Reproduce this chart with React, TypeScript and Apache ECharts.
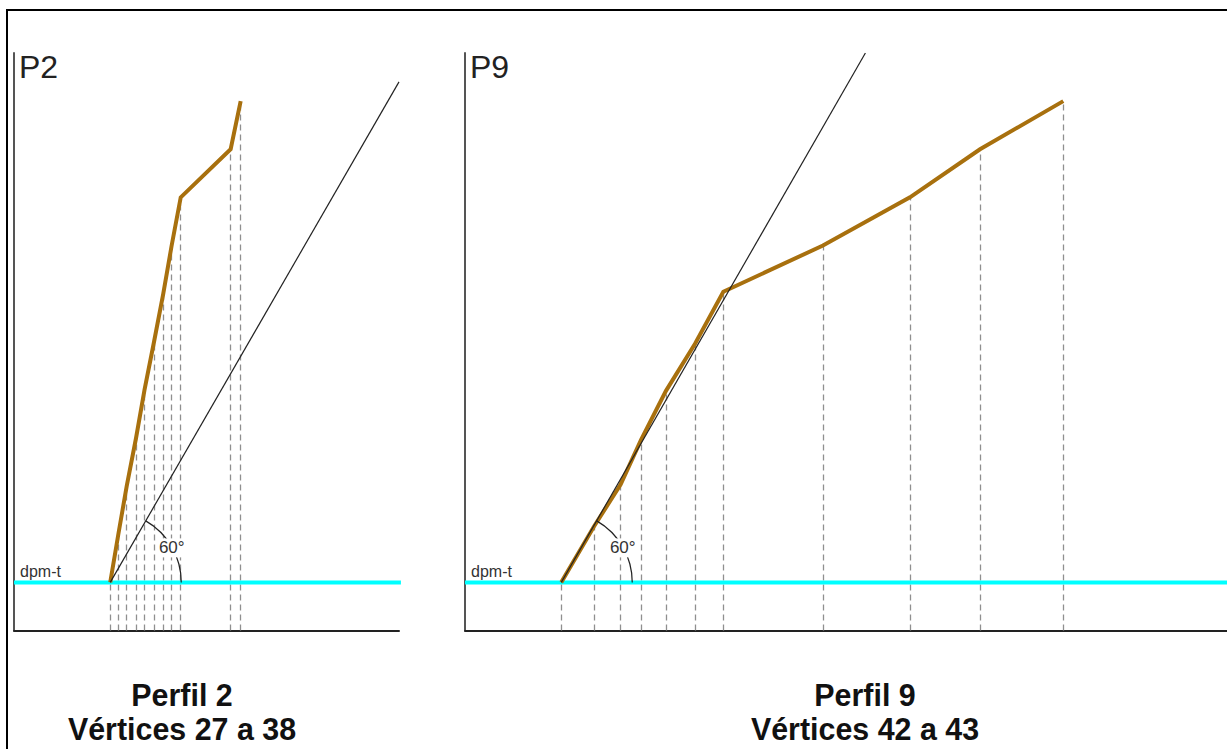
import React, { useEffect, useRef } from "react";
import * as echarts from "echarts";

// ---- data (distance m, elevation m) ----
const DPM_T = 5;
const P2_X = [10.0, 10.84, 11.71, 12.68, 13.56, 14.55, 15.51, 16.38, 17.32, 22.51, 23.55];
const P2_Y = [5, 10, 15, 20, 25, 30, 35, 40, 45, 50, 55];
const P9_X = [10.0, 13.4, 16.18, 18.29, 20.88, 23.9, 26.84, 37.19, 46.23, 53.51, 62.16];
const P9_Y = [5, 10.8, 15.2, 19.8, 24.9, 29.8, 35.2, 40.0, 45.0, 50.0, 55.0];
const P2_REF = [[10, 5], [40, 57]];
const P9_REF = [[10, 5], [41.6, 60]];
const PANEL_NAMES = ["P2", "P9"];
const TITLES = [
  ["Perfil 2", "Vértices 27 a 38"],
  ["Perfil 9", "Vértices 42 a 43"],
];
const X_MAX = [40, 79.17];
const Y_MAX = 60;
const ANGLE_DEG = 60;
const ANGLE_LABEL = "60°";
const LEVEL_LABEL = "dpm-t";

const FONT = "'Liberation Sans', Arial, Helvetica, sans-serif";
const ORANGE = "#A8700E";

export default function App() {
  const ref = useRef<HTMLDivElement>(null);
  useEffect(() => {
    const chart = echarts.init(ref.current!, null, { renderer: "svg" });
    const panels = [
      { xs: P2_X, ys: P2_Y, refl: P2_REF },
      { xs: P9_X, ys: P9_Y, refl: P9_REF },
    ];
    const grids = [
      { left: 14, top: 53, width: 385, height: 577.5 },
      { left: 465, top: 53, width: 762, height: 577.5 },
    ];
    const series: any[] = [];
    panels.forEach((p, i) => {
      const pts = p.xs.map((x, k) => [x, p.ys[k]]);
      series.push({
        type: "lines",
        coordinateSystem: "cartesian2d",
        xAxisIndex: i,
        yAxisIndex: i,
        silent: true,
        data: pts.map((pt) => ({ coords: [[pt[0], 0], pt] })),
        lineStyle: { color: "#8f8f8f", width: 1.3, type: [6, 4], opacity: 1 },
        z: 1,
      });
      series.push({
        type: "line",
        xAxisIndex: i,
        yAxisIndex: i,
        data: [[0, DPM_T], [X_MAX[i] + 0.2, DPM_T]],
        symbol: "none",
        lineStyle: { color: "#00FFFF", width: 4 },
        clip: false,
        z: 2,
      });
      series.push({
        type: "line",
        xAxisIndex: i,
        yAxisIndex: i,
        data: pts,
        symbol: "none",
        lineStyle: { color: ORANGE, width: 4, join: "miter" },
        z: 3,
      });
      series.push({
        type: "line",
        xAxisIndex: i,
        yAxisIndex: i,
        data: p.refl,
        symbol: "none",
        lineStyle: { color: "#222", width: 1.2 },
        z: 4,
      });
    });

    chart.setOption({
      animation: false,
      backgroundColor: "#fff",
      grid: grids,
      xAxis: [0, 1].map((i) => ({
        type: "value",
        gridIndex: i,
        min: 0,
        max: X_MAX[i],
        axisLine: { show: true, onZero: false, lineStyle: { color: "#222", width: 2 } },
        axisTick: { show: false },
        axisLabel: { show: false },
        splitLine: { show: false },
      })),
      yAxis: [0, 1].map((i) => ({
        type: "value",
        gridIndex: i,
        min: 0,
        max: Y_MAX,
        axisLine: { show: true, onZero: false, lineStyle: { color: "#555", width: 2 } },
        axisTick: { show: false },
        axisLabel: { show: false },
        splitLine: { show: false },
      })),
      series,
    });

    const graphic: any[] = [
      {
        type: "rect",
        shape: { x: 7, y: 10, width: 1250, height: 780 },
        style: { fill: "none", stroke: "#000", lineWidth: 2 },
        z: 50,
      },
    ];
    const r = 71;
    const a = (ANGLE_DEG * Math.PI) / 180;
    panels.forEach((p, i) => {
      const g = grids[i];
      graphic.push({
        type: "text",
        style: {
          text: PANEL_NAMES[i],
          x: g.left + 5,
          y: 67,
          verticalAlign: "middle",
          font: `32px ${FONT}`,
          fill: "#222",
        },
        z: 60,
      });
      const lvl = chart.convertToPixel({ gridIndex: i }, [0, DPM_T]) as number[];
      graphic.push({
        type: "text",
        style: {
          text: LEVEL_LABEL,
          x: g.left + 6,
          y: lvl[1] - 11,
          verticalAlign: "middle",
          font: `16px ${FONT}`,
          fill: "#333",
        },
        z: 60,
      });
      const c = chart.convertToPixel({ gridIndex: i }, p.refl[0]) as number[];
      graphic.push({
        type: "arc",
        shape: { cx: c[0], cy: c[1], r, startAngle: -a, endAngle: 0, clockwise: true },
        style: { stroke: "#222", lineWidth: 1.2, fill: "none" },
        z: 55,
      });
      graphic.push({
        type: "text",
        style: {
          text: ANGLE_LABEL,
          x: c[0] + r * Math.cos(a / 2),
          y: c[1] - r * Math.sin(a / 2) + 1,
          align: "center",
          verticalAlign: "middle",
          font: `17px ${FONT}`,
          fill: "#333",
          backgroundColor: "#fff",
          padding: [1, 1],
        },
        z: 60,
      });
      const cx = i === 0 ? 182 : 865;
      [695, 729].forEach((ty, k) => {
        graphic.push({
          type: "text",
          x: cx,
          y: ty,
          scaleX: 0.95,
          style: {
            text: TITLES[i][k],
            x: 0,
            y: 0,
            align: "center",
            verticalAlign: "middle",
            font: `bold 32px ${FONT}`,
            fill: "#111",
          },
          z: 60,
        });
      });
    });
    chart.setOption({ graphic });

    return () => chart.dispose();
  }, []);
  return (
    <div
      ref={ref}
      style={{ position: "fixed", left: 0, top: 0, width: 1227, height: 749, background: "#fff" }}
    />
  );
}
